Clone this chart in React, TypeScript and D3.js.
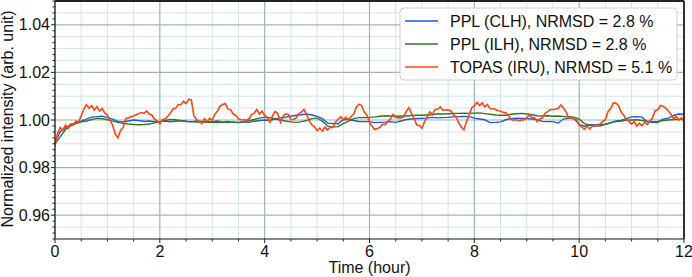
import React from "react";
import * as d3 from "d3";

const xTicks = [0, 2, 4, 6, 8, 10, 12];
const yTicks = [0.96, 0.98, 1.0, 1.02, 1.04];
const yTickLabels = ["0.96", "0.98", "1.00", "1.02", "1.04"];
const seriesNames = ["PPL (CLH), NRMSD = 2.8 %", "PPL (ILH), NRMSD = 2.8 %", "TOPAS (IRU), NRMSD = 5.1 %"];
const seriesColors = ["#1f55e8", "#2f7a1f", "#ff4614"];

// CLH, sampled every 0.1 h from 0 to 12
const clh = [
  0.991, 0.995, 0.9968, 0.998, 0.9988, 0.9995, 1.0004, 1.0012, 1.0014, 1.0016,
  1.001, 1.0004, 0.9994, 0.9992, 0.9996, 1.0, 0.9998, 0.9994, 0.9996, 0.9993,
  0.9993, 0.9996, 0.9992, 0.9995, 0.9998, 0.9995, 0.9992, 0.9996, 0.9994, 0.9993,
  0.9993, 0.9996, 0.9991, 0.9994, 0.999, 0.9989, 0.9992, 0.999, 0.9995, 0.9998,
  1.0, 0.9998, 1.0004, 1.0009, 1.0012, 1.0016, 1.002, 1.0022, 1.0025, 1.0021,
  1.0015, 1.0006, 0.9987, 0.9985, 0.9984, 1.0001, 1.0003, 0.9998, 0.9994, 0.9993,
  0.9993, 0.9989, 0.999, 0.9991, 0.9993, 0.999, 0.9996, 1.0002, 1.0004, 1.0006,
  1.0007, 1.0008, 1.0011, 1.0009, 1.001, 1.0011, 1.0013, 1.0014, 1.0015, 1.0014,
  1.0008, 1.0004, 1.0001, 0.9989, 0.999, 0.9992, 1.0001, 1.0006, 1.0008, 1.0007,
  1.0006, 1.0004, 1.0001, 0.9994, 0.9993, 0.9993, 0.9987, 1.0004, 1.0008, 1.0006,
  0.9982, 0.9974, 0.998, 0.9979, 0.9981, 0.9982, 0.9988, 0.9996, 0.9998, 1.0006,
  1.0013, 1.0014, 1.0012, 0.9992, 0.999, 0.9989, 1.0004, 1.0008, 1.0019, 1.0025,
  1.0024,
];

// ILH, sampled every 0.1 h from 0 to 12
const ilh = [
  0.99, 0.993, 0.996, 0.9975, 0.9985, 0.9992, 0.9996, 1.0002, 1.0007, 1.0005,
  1.0001, 0.9995, 0.999, 0.9986, 0.9983, 0.9981, 0.998, 0.9981, 0.9983, 0.9988,
  0.9993, 0.9998, 1.0002, 1.0001, 0.9997, 0.9994, 0.9993, 0.9991, 0.9992, 0.999,
  0.999, 0.9989, 0.9991, 0.999, 0.9992, 0.999, 0.9993, 0.9997, 1.0002, 1.0008,
  1.0012, 1.001, 1.0004, 1.0, 0.9996, 0.9992, 0.999, 0.9993, 0.9998, 1.0006,
  1.0008, 0.9995, 0.9975, 0.997, 0.9972, 0.9985, 0.9995, 1.0006, 1.001, 1.001,
  1.0011, 1.0013, 1.0016, 1.0018, 1.0017, 1.0016, 1.0017, 1.0017, 1.0019, 1.002,
  1.002, 1.0021, 1.0022, 1.0026, 1.0025, 1.0026, 1.0027, 1.0028, 1.0029, 1.0028,
  1.0029, 1.003, 1.0027, 1.0024, 1.0021, 1.002, 1.002, 1.0024, 1.0026, 1.0028,
  1.0025, 1.0022, 1.0018, 1.0017, 1.0018, 1.0016, 1.0017, 1.0015, 1.0014, 1.0012,
  1.0004, 0.9985, 0.9979, 0.9976, 0.9975, 0.9982, 0.9989, 0.9993, 0.9996, 0.9999,
  1.0, 1.0001, 0.9998, 0.9995, 0.9993, 0.9994, 0.9998, 1.0, 1.0002, 1.0003,
  1.0004,
];

// IRU, sampled every 0.05 h from 0 to 12
const iru = [
  0.989, 0.9945, 0.9968, 0.9958, 0.9978, 0.9964, 0.9984, 0.9979, 0.9996, 0.9991, 1.0018, 1.0046, 1.0064, 1.0049, 1.0061, 1.0042, 1.0056, 1.0038, 1.0049, 1.0029,
  1.0021, 0.9998, 0.9978, 0.9941, 0.9925, 0.9956, 0.9968, 1.0007, 1.0009, 1.0014, 1.0017, 1.0022, 1.0027, 1.0031, 1.0028, 1.0038, 1.0024, 1.0021, 1.0003, 0.9996,
  0.9984, 1.0001, 1.0004, 1.0016, 1.0028, 1.0046, 1.0049, 1.0065, 1.0064, 1.0079, 1.0069, 1.0087, 1.0085, 1.0018, 1.0001, 0.9994, 0.9985, 1.0006, 0.9993, 1.0007,
  0.9999, 1.0025, 1.0038, 1.0059, 1.0065, 1.0069, 1.0045, 1.0044, 1.0025, 1.0019, 1.0005, 1.0001, 1.0001, 0.9999, 1.0005, 1.0023, 1.0029, 1.0044, 1.0025, 1.0037,
  1.0019, 1.0011, 0.999, 1.0018, 1.0036, 1.0027, 0.999, 1.0015, 1.0026, 1.0024, 1.0001, 1.0002, 1.0009, 1.0027, 1.0033, 1.0044, 1.0023, 0.9997, 0.9979, 0.9971,
  0.9955, 0.9966, 0.9953, 0.9971, 0.9958, 0.997, 0.9969, 0.9991, 1.0003, 1.0014, 1.0001, 1.0012, 1.0, 1.0015, 1.0025, 1.0055, 1.0066, 1.0061, 1.0033, 1.0021,
  0.9989, 0.9974, 0.996, 0.9964, 0.9969, 0.9982, 0.9981, 0.9994, 1.0005, 1.0024, 1.0011, 1.0009, 1.0009, 1.0012, 1.0035, 1.0052, 1.0029, 1.0007, 0.998, 0.9977,
  0.9965, 0.9992, 1.0013, 1.0034, 1.0023, 1.0044, 1.0045, 1.0055, 1.0041, 1.0042, 1.0043, 1.0039, 1.0021, 1.0014, 0.9989, 0.9971, 0.9959, 0.9994, 1.0021, 1.0051,
  1.0059, 1.0074, 1.0061, 1.0072, 1.0055, 1.0065, 1.0048, 1.0047, 1.0045, 1.0039, 1.0038, 1.0032, 1.003, 1.0021, 1.0003, 0.9999, 1.0001, 0.9997, 1.0, 1.0001,
  1.0009, 1.0024, 1.001, 1.0009, 0.9993, 1.0005, 1.0008, 1.0029, 1.0035, 1.0044, 1.0044, 1.0046, 1.0049, 1.0063, 1.0051, 1.0034, 1.0009, 1.0007, 1.0005, 1.0001,
  0.9979, 0.9971, 0.9961, 0.9975, 0.9963, 0.9974, 0.9975, 0.9977, 0.9983, 0.9995, 1.0001, 1.0035, 1.0048, 1.0071, 1.0071, 1.0061, 1.0033, 1.0021, 1.0001, 0.9995,
  0.9983, 0.9994, 0.9975, 0.9987, 0.9976, 0.9991, 0.9981, 0.9996, 1.0009, 1.0039, 1.0043, 1.0061, 1.0058, 1.005, 1.0038, 1.0025, 1.0005, 1.0015, 1.0, 1.001,
  0.9992,
];

const W = 692;
const H = 277;
const M = { left: 55, right: 8, top: 1, bottom: 38 };
const FONT = "'Liberation Sans', Arial, sans-serif";

export default function App() {
  const x = d3.scaleLinear().domain([0, 12]).range([M.left, W - M.right]);
  const y = d3.scaleLinear().domain([0.95, 1.05]).range([H - M.bottom, M.top]);

  const minorX = d3.range(0, 12.001, 0.5).filter((v) => Math.abs(v % 2) > 1e-6);
  const minorY = d3.range(0.95, 1.0501, 0.005).filter((v) => !yTicks.some((t) => Math.abs(t - v) < 1e-6));
  const minorYTicks = d3.range(0.95, 1.0501, 0.0025).filter((v) => !yTicks.some((t) => Math.abs(t - v) < 1e-6));

  const mk = (vals: number[], step: number) =>
    d3
      .line<number>()
      .x((_, i) => x(i * step))
      .y((v) => y(v))(vals) || "";

  const series = [
    { vals: clh, step: 0.1 },
    { vals: ilh, step: 0.1 },
    { vals: iru, step: 0.05 },
  ];

  const x0 = M.left, x1 = W - M.right, y0 = H - M.bottom, y1 = M.top;
  const lgX = 400, lgY = 8;

  return (
    <svg width={W} height={H} style={{ position: "absolute", left: 0, top: 0, background: "#fff" }} fontFamily={FONT}>
      <defs>
        <clipPath id="plot">
          <rect x={x0} y={y1} width={x1 - x0} height={y0 - y1} />
        </clipPath>
      </defs>
      {minorX.map((v) => (
        <line key={"mx" + v} x1={x(v)} x2={x(v)} y1={y0} y2={y1} stroke="#d3e5e8" strokeWidth={1} />
      ))}
      {minorY.map((v) => (
        <line key={"my" + v} x1={x0} x2={x1} y1={y(v)} y2={y(v)} stroke="#d3e5e8" strokeWidth={1} />
      ))}
      {xTicks.map((v) => (
        <line key={"gx" + v} x1={x(v)} x2={x(v)} y1={y0} y2={y1} stroke="#9fb3b3" strokeWidth={1.2} />
      ))}
      {yTicks.map((v) => (
        <line key={"gy" + v} x1={x0} x2={x1} y1={y(v)} y2={y(v)} stroke="#9fb3b3" strokeWidth={1.2} />
      ))}
      <g clipPath="url(#plot)">
        {series.map((s, i) => (
          <path key={i} d={mk(s.vals, s.step)} fill="none" stroke={seriesColors[i]} strokeWidth={i === 2 ? 1.6 : 1.4} strokeLinejoin="miter" />
        ))}
      </g>
      <line x1={x0} x2={x0} y1={y0} y2={y1} stroke="#222" strokeWidth={1.2} />
      <line x1={x0} x2={x1} y1={y0} y2={y0} stroke="#222" strokeWidth={1.2} />
      <line x1={x0} x2={x1} y1={y1} y2={y1} stroke="#222" strokeWidth={2} />
      <line x1={x1} x2={x1} y1={y0} y2={y1} stroke="#333" strokeWidth={2} />
      {xTicks.map((v) => (
        <g key={"tx" + v}>
          <line x1={x(v)} x2={x(v)} y1={y0} y2={y0 + 4} stroke="#222" />
          <text x={x(v)} y={y0 + 18} fontSize={16} textAnchor="middle" fill="#111">{String(v)}</text>
        </g>
      ))}
      {minorX.map((v) => (
        <line key={"tmx" + v} x1={x(v)} x2={x(v)} y1={y0} y2={y0 + 2.5} stroke="#222" />
      ))}
      {yTicks.map((v, i) => (
        <g key={"ty" + v}>
          <line x1={x0 - 4} x2={x0} y1={y(v)} y2={y(v)} stroke="#222" />
          <text x={x0 - 5} y={y(v) + 5.5} fontSize={16} textAnchor="end" fill="#111">{yTickLabels[i]}</text>
        </g>
      ))}
      {minorYTicks.map((v) => (
        <line key={"tmy" + v} x1={x0 - 2.5} x2={x0} y1={y(v)} y2={y(v)} stroke="#222" />
      ))}
      <text x={(x0 + x1) / 2} y={H - 4} fontSize={16} textAnchor="middle" fill="#111">Time (hour)</text>
      <text transform={`translate(13,119) rotate(-90)`} fontSize={16} textAnchor="middle" fill="#111">
        Normalized intensity (arb. unit)
      </text>
      <rect x={lgX} y={lgY} width={277} height={72} rx={4} fill="#fff" fillOpacity={0.95} stroke="#cfcfcf" />
      {seriesNames.map((n, i) => (
        <g key={n}>
          <line x1={lgX + 5} x2={lgX + 38} y1={lgY + 13 + i * 23} y2={lgY + 13 + i * 23} stroke={seriesColors[i]} strokeWidth={1.6} />
          <text x={lgX + 50} y={lgY + 18.7 + i * 23} fontSize={16} fill="#111">{n}</text>
        </g>
      ))}
    </svg>
  );
}
